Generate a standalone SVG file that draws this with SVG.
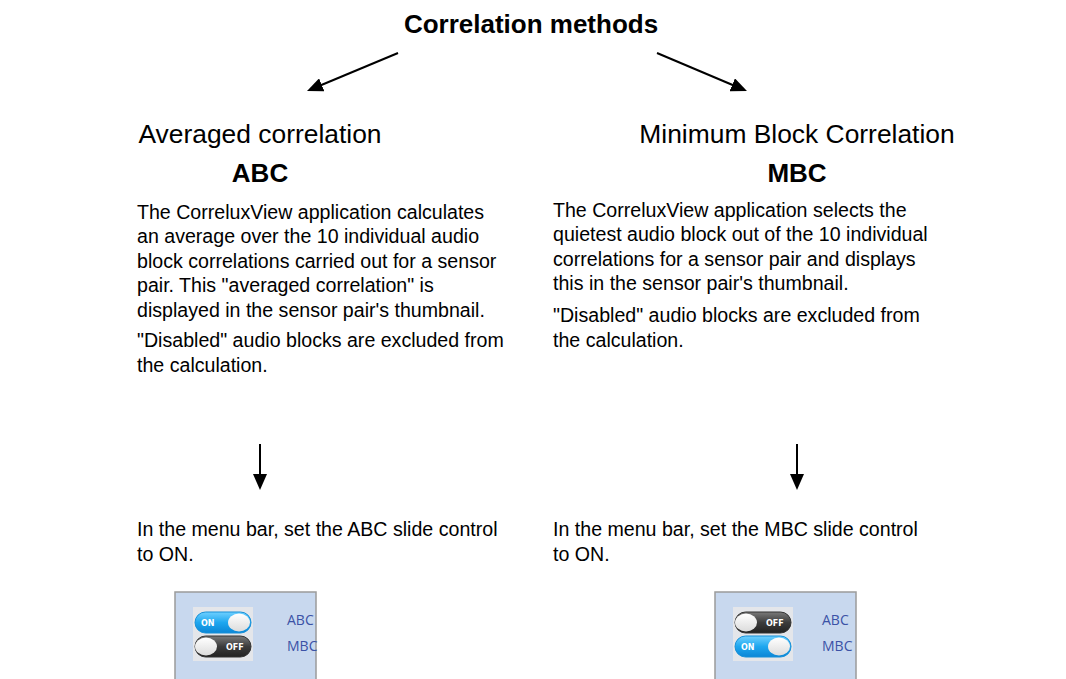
<svg xmlns="http://www.w3.org/2000/svg" width="1066" height="679" viewBox="0 0 1066 679">
<defs>
<marker id="ah" viewBox="0 0 16 14" refX="3" refY="7" markerWidth="16" markerHeight="14" markerUnits="userSpaceOnUse" orient="auto">
<path d="M0,0 L16,7 L0,14 z" fill="#000"/>
</marker>
<linearGradient id="gOn" x1="0" y1="0" x2="0" y2="1">
<stop offset="0" stop-color="#6fd0ff"/><stop offset="0.5" stop-color="#1ea7ef"/><stop offset="1" stop-color="#0b86d6"/>
</linearGradient>
<linearGradient id="gOff" x1="0" y1="0" x2="0" y2="1">
<stop offset="0" stop-color="#7a7a7a"/><stop offset="0.5" stop-color="#3c3c3c"/><stop offset="1" stop-color="#222"/>
</linearGradient>
<linearGradient id="gKnob" x1="0" y1="0" x2="0" y2="1">
<stop offset="0" stop-color="#ffffff"/><stop offset="1" stop-color="#dcdcdc"/>
</linearGradient>
</defs>
<style>
text{font-family:"Liberation Sans",Arial,sans-serif;fill:#000}
.t{font-size:19.6px}
.h{font-size:26.4px;text-anchor:middle}
.b{font-size:26px;font-weight:bold;text-anchor:middle}
.arr{stroke:#000;stroke-width:2;fill:none}
.panel{fill:#c8d8ee;stroke:#9b9b9b;stroke-width:1.5}
.lbl{font-family:"Open Sans","DejaVu Sans",sans-serif;font-size:14px;fill:#3b52a6}
.sw{font-family:"DejaVu Sans",sans-serif;font-size:8px;font-weight:bold;fill:#fff}
</style>

<g id="title"><text class="b" x="531" y="33">Correlation methods</text></g>

<g id="connectors">
<line class="arr" x1="398" y1="53" x2="319" y2="86" marker-end="url(#ah)"/>
<line class="arr" x1="657" y1="53" x2="735" y2="86" marker-end="url(#ah)"/>
<line class="arr" x1="260" y1="444" x2="260" y2="477" marker-end="url(#ah)"/>
<line class="arr" x1="797" y1="444" x2="797" y2="477" marker-end="url(#ah)"/>
</g>

<g id="abc">
<text class="h" x="260" y="143">Averaged correlation</text>
<text class="b" x="260" y="182">ABC</text>
<text class="t" x="137" y="219">The CorreluxView application calculates</text>
<text class="t" x="137" y="243">an average over the 10 individual audio</text>
<text class="t" x="137" y="268">block correlations carried out for a sensor</text>
<text class="t" x="137" y="292">pair. This "averaged correlation" is</text>
<text class="t" x="137" y="317">displayed in the sensor pair's thumbnail.</text>
<text class="t" x="137" y="347">"Disabled" audio blocks are excluded from</text>
<text class="t" x="137" y="372">the calculation.</text>
</g>

<g id="mbc">
<text class="h" x="797" y="143">Minimum Block Correlation</text>
<text class="b" x="797" y="182">MBC</text>
<text class="t" x="553" y="217">The CorreluxView application selects the</text>
<text class="t" x="553" y="241">quietest audio block out of the 10 individual</text>
<text class="t" x="553" y="266">correlations for a sensor pair and displays</text>
<text class="t" x="553" y="290">this in the sensor pair's thumbnail.</text>
<text class="t" x="553" y="322">"Disabled" audio blocks are excluded from</text>
<text class="t" x="553" y="347">the calculation.</text>
</g>

<g id="abc-action">
<text class="t" x="137" y="536">In the menu bar, set the ABC slide control</text>
<text class="t" x="137" y="561">to ON.</text>
</g>
<g id="mbc-action">
<text class="t" x="553" y="536">In the menu bar, set the MBC slide control</text>
<text class="t" x="553" y="561">to ON.</text>
</g>

<g id="abc-panel">
<rect class="panel" x="175" y="592" width="141" height="95"/>
<rect x="193" y="607" width="60" height="54" fill="#e4e6ea"/>
<rect x="195" y="612" width="56" height="21" rx="10.5" fill="url(#gOn)" stroke="#1790d8"/>
<text class="sw" x="201" y="626">ON</text>
<ellipse cx="239" cy="622.5" rx="11" ry="9" fill="url(#gKnob)"/>
<rect x="195" y="636" width="56" height="21" rx="10.5" fill="url(#gOff)" stroke="#333"/>
<ellipse cx="206" cy="646.5" rx="11" ry="9" fill="url(#gKnob)"/>
<text class="sw" x="226" y="650">OFF</text>
<text class="lbl" x="287" y="625">ABC</text>
<text class="lbl" x="287" y="651">MBC</text>
</g>

<g id="mbc-panel">
<rect class="panel" x="715" y="592" width="141" height="95"/>
<rect x="733" y="607" width="60" height="54" fill="#e4e6ea"/>
<rect x="735" y="612" width="56" height="21" rx="10.5" fill="url(#gOff)" stroke="#333"/>
<ellipse cx="746" cy="622.5" rx="11" ry="9" fill="url(#gKnob)"/>
<text class="sw" x="766" y="626">OFF</text>
<rect x="735" y="636" width="56" height="21" rx="10.5" fill="url(#gOn)" stroke="#1790d8"/>
<text class="sw" x="741" y="650">ON</text>
<ellipse cx="779" cy="646.5" rx="11" ry="9" fill="url(#gKnob)"/>
<text class="lbl" x="822" y="625">ABC</text>
<text class="lbl" x="822" y="651">MBC</text>
</g>
</svg>
